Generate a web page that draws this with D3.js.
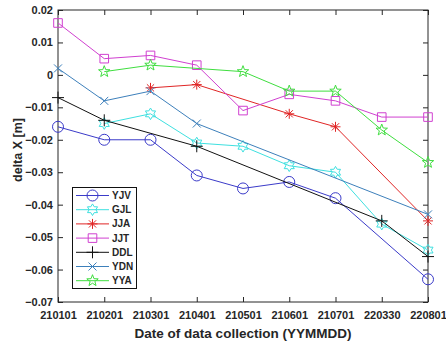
<!DOCTYPE html>
<html lang="en">
<head>
<meta charset="UTF-8">
<title>delta X</title>
<script src="https://d3js.org/d3.v7.min.js"></script>
<style>
  body { margin: 0; background: white; }
  text { font-family: "Liberation Sans", Arial, sans-serif; font-weight: bold; fill: #262626; }
</style>
</head>
<body>
<svg id="main" width="446" height="346"></svg>
<script>
let dates = ["210101", "210201", "210301", "210401", "210501", "210601", "210701", "220330", "220801"];
let yjv = [-0.016, -0.020, -0.020, -0.031, -0.035, -0.033, -0.038, null, -0.063];
let gjl = [null, -0.015, -0.012, -0.021, -0.022, -0.028, -0.030, -0.046, -0.054];
let jja = [null, null, -0.004, -0.003, null, -0.012, -0.016, null, -0.045];
let jjt = [0.016, 0.005, 0.006, 0.003, -0.011, -0.006, -0.008, -0.013, -0.013];
let ddl = [-0.007, -0.014, null, -0.022, null, null, null, -0.045, -0.056];
let ydn = [0.002, -0.008, -0.005, -0.015, null, null, null, null, -0.043];
let yya = [null, 0.001, 0.003, null, 0.001, -0.005, -0.005, -0.017, -0.027];
let yTicks = [0.02, 0.01, 0, -0.01, -0.02, -0.03, -0.04, -0.05, -0.06, -0.07];

let series = [
    {name: "YJV", values: yjv, color: "#3b3bc9", marker: "circle"},
    {name: "GJL", values: gjl, color: "#3ee0e0", marker: "hexagram"},
    {name: "JJA", values: jja, color: "#e02525", marker: "asterisk"},
    {name: "JJT", values: jjt, color: "#d040d0", marker: "square"},
    {name: "DDL", values: ddl, color: "#111111", marker: "plus"},
    {name: "YDN", values: ydn, color: "#3d80bb", marker: "cross"},
    {name: "YYA", values: yya, color: "#3fde3f", marker: "pentagram"}
];

let svg = d3.select('svg#main');
let plot = {left: 58, right: 428, top: 10, bottom: 302};

let x = d3.scalePoint().domain(dates).range([plot.left, plot.right]);
let y = d3.scaleLinear().domain([-0.07, 0.02]).range([plot.bottom, plot.top]);

// marker shapes, centred on 0,0
function star(n, rOut, rIn, rot) {
    let pts = [];
    for (let i = 0; i < 2 * n; i++) {
        let r = i % 2 === 0 ? rOut : rIn;
        let a = rot + i * Math.PI / n;
        pts.push([r * Math.sin(a), -r * Math.cos(a)]);
    }
    return "M" + pts.map(p => p[0].toFixed(2) + "," + p[1].toFixed(2)).join("L") + "Z";
}
function markerPath(kind) {
    switch (kind) {
        case "circle": return "M5.5,0A5.5,5.5 0 1,1 -5.5,0A5.5,5.5 0 1,1 5.5,0Z";
        case "square": return "M-4.3,-4.3H4.3V4.3H-4.3Z";
        case "hexagram": return star(6, 5.8, 3.4, 0);
        case "pentagram": return star(5, 6, 2.5, 0);
        case "asterisk": return "M-5,0H5M0,-5V5M-3.6,-3.6L3.6,3.6M-3.6,3.6L3.6,-3.6";
        case "plus": return "M-6,0H6M0,-6V6";
        case "cross": return "M-4,-4L4,4M-4,4L4,-4";
    }
}

// axes with inward ticks on all four sides
let fmt = d => d === 0 ? "0" : d3.format(".2f")(d);
let axBottom = svg.append('g').attr('transform', 'translate(0,' + plot.bottom + ')')
    .call(d3.axisBottom(x).tickSize(-5).tickPadding(9));
let axLeft = svg.append('g').attr('transform', 'translate(' + plot.left + ',0)')
    .call(d3.axisLeft(y).tickValues(yTicks).tickFormat(fmt).tickSize(-5).tickPadding(5));
let axTop = svg.append('g').attr('transform', 'translate(0,' + plot.top + ')')
    .call(d3.axisTop(x).tickSize(-5).tickFormat(''));
let axRight = svg.append('g').attr('transform', 'translate(' + plot.right + ',0)')
    .call(d3.axisRight(y).tickValues(yTicks).tickSize(-5).tickFormat(''));
svg.selectAll('.domain').remove();
svg.selectAll('.tick line').attr('stroke', '#262626');
svg.selectAll('.tick text').attr('font-size', 11).attr('font-family', null).attr('fill', '#262626');
svg.append('rect')
    .attr('x', plot.left).attr('y', plot.top)
    .attr('width', plot.right - plot.left).attr('height', plot.bottom - plot.top)
    .attr('fill', 'none').attr('stroke', '#262626').attr('stroke-width', 1);

// series lines and markers
let line = d3.line().x(d => x(d.date)).y(d => y(d.v));
let fig = svg.append('g');
series.forEach(function (s) {
    let pts = dates.map((d, i) => ({date: d, v: s.values[i]})).filter(p => p.v !== null);
    fig.append('path').attr('d', line(pts))
        .attr('fill', 'none').attr('stroke', s.color).attr('stroke-width', 1);
    fig.selectAll(null).data(pts).enter().append('path')
        .attr('d', markerPath(s.marker))
        .attr('transform', p => 'translate(' + x(p.date) + ',' + y(p.v) + ')')
        .attr('fill', 'none').attr('stroke', s.color).attr('stroke-width', 1);
});

// axis titles
svg.append('text').attr('x', (plot.left + plot.right) / 2).attr('y', 338)
    .attr('text-anchor', 'middle').attr('font-size', 13.5)
    .text('Date of data collection (YYMMDD)');
svg.append('text').attr('transform', 'translate(22,150) rotate(-90)')
    .attr('text-anchor', 'middle').attr('font-size', 12.5)
    .text('delta X [m]');

// legend
let lg = svg.append('g');
lg.append('rect').attr('x', 72.5).attr('y', 187.5).attr('width', 64).attr('height', 101)
    .attr('fill', 'white').attr('stroke', '#111').attr('stroke-width', 1);
series.forEach(function (s, i) {
    let ly = 195.5 + i * 14.2;
    lg.append('line').attr('x1', 76).attr('x2', 109).attr('y1', ly).attr('y2', ly)
        .attr('stroke', s.color).attr('stroke-width', 1);
    lg.append('path').attr('d', markerPath(s.marker))
        .attr('transform', 'translate(92.5,' + ly + ')')
        .attr('fill', 'none').attr('stroke', s.color).attr('stroke-width', 1);
    lg.append('text').attr('x', 112).attr('y', ly).attr('dy', '0.35em')
        .attr('font-size', 10).text(s.name);
});
</script>
</body>
</html>
